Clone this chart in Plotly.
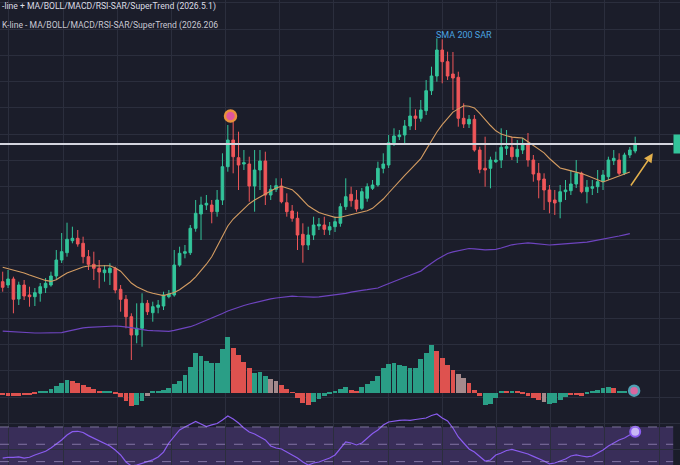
import plotly.graph_objects as go

# ---------------- data ----------------
open_ = [118.3,115,121,101,115,105,103.3,106.7,112.3,115,124,140,147.3,159.3,161.7,156.7,143.3,135.7,131.7,127.3,
         127.3,131.7,110.7,100.7,83.3,65,71.7,96.7,87.3,92.7,94,103.3,105,135,146.7,147.3,171.7,186,195,195,
         188.3,200,233.3,260,242.3,236,236,214,230,239,205,210.7,214,197.3,189,181.7,165.7,155,165,174,
         175,170,173.3,176.7,193.3,205.7,200,191.7,201.7,211.7,215,231.7,235,257.3,263.3,265,274,284,281.7,289.3,
         309.3,324,350,338.3,326,322.7,281.7,276,280.7,250,231.7,231.7,238.3,240,251.7,252.7,243.3,250,256,240,
         226.7,221,210,200,198.3,208.3,209.3,216,226.7,208.3,211.7,213.3,218.3,223.3,239.3,240,226.7,245,249]
high = [128.3,130,123.3,118.3,120,113.3,112,117,122,128.3,150,167,177.3,173.3,170,163.3,150,148.3,140,135,
        136.7,133.3,115,105,86.7,96.7,106.7,100,98.3,100,108.3,110,150,153.3,155,175,200,203.3,205,200,
        210,246.7,275,278.3,268.3,250,243.3,250,250,248.3,215,221.7,221.7,206.7,195,188.3,176.7,173.3,183.3,182,
        183.3,178,183.3,196.7,221.7,213.3,210,212,216.7,220,238.3,246.7,265,271.7,270,280,302.7,290.7,300,320,
        333.3,361.7,360.7,348.3,348,328.3,296.7,285,285,253.3,263.3,243.3,248.3,271.7,270,263.3,260,262,267,245,
        237,226.7,215,210,215,220,230,240,228.3,220,220,230,230,243.3,250,246.7,247.3,253,263.3]
low = [108.3,112,86.7,95,100,93.3,94,98.3,107,113.3,120,137,143.3,156.7,153.3,136.7,130,120,111.7,118.3,
       115,106.7,88.3,71.7,40,56.7,53.3,85,78.3,86.7,90,101.7,103.3,133.3,141.7,145,168.3,160,190,176.7,
       183.3,195,228.3,226.7,210,230,198.3,188.3,210,195,200,208,196.7,183.3,178.3,150,137.3,150,160,170,
       165,165,168,173.3,190,193.3,188.3,190,198.3,210,213.3,226.7,232,254,260,255,270,270,278.3,285,
       305,318.3,316.7,320,290,273.3,272,272,248.3,226.7,213.3,211.7,237,232,245,240,237,246,233.3,218.3,
       201.7,190,186.7,185,181.7,200,205,212,206.7,196.7,205,207,210,220,235,225,225,242,246.7]
close = [112.7,121,100.7,115,104,103.3,107.3,113.3,116.7,124,140,148.3,160.7,161.7,156,143.3,135.7,131.7,128,130,
         131.7,110,100.7,83.3,65,71.7,96.7,88.3,93.3,95,105,106,135,146.7,148.3,171.7,186.7,195,196.7,188.3,
         200,233.3,260,243.3,235,237.3,214,230,239,205,210.7,214.3,198.3,188.3,181.7,165,155,165,175,175.7,
         170.7,173.3,178.3,193.3,203.3,199.3,191,208.3,213.3,215,231.7,236,257.3,264,265,274,284,281.7,290,309.3,
         324,350,338.3,324,322,281.7,276,280.7,250,230.7,230,240,240,252.7,253.3,243.3,250.7,256,240,226,
         220,210,198.3,197,208.3,210,216,226.7,208.3,212.7,213.3,218.3,225,240,241.7,226.7,245,250,255.7]

ma20 = [132.7,131.3,130,128.6,127,125,123,121,119.6,118.6,120.3,123.7,127,129,131.2,133,134,134.3,134.3,134.3,
        134.3,132,128.8,123,117,113.3,110.7,108.2,106.8,105.5,104.4,106,107.5,110.3,114,118,123.2,129.4,135.8,143.2,
        153.5,163.7,174,181,186,191.2,196.3,200,203.2,206.2,209,212,213.7,212,210.3,205.5,199.7,194.2,190.7,187.5,
        185.7,184,182.6,182.8,184,185.5,186.8,188,189.3,191.7,196,201,207,213.2,219.2,224.7,230.1,235.4,241.3,250.4,
        259.4,268,275.4,281.6,287.9,291.1,294.2,293.8,292.1,286.7,280.4,274.5,269.2,265.9,264.3,262.9,262.4,262,258.3,254.5,
        250.8,247.2,241.5,236.4,232,230.6,229.3,228,226.4,224.4,222.4,220.1,218,220,222,223.7,225.8,227.9]

sma200 = [68.9,68.5,68.2,67.9,67.5,67.2,67,67,67,67,67,67.4,68.7,70.1,71.4,72.2,72.7,73.1,73.5,73.9,
          74.3,74,73.7,73.4,72.4,71.3,70.2,69.7,69.3,68.9,68.5,68.6,69.6,70.6,71.6,73.3,75.3,77.4,79.5,81.5,
          83.9,86.5,89,91,92.8,94.5,96,97.4,99.1,100.4,101.2,102,102.7,103.5,103.9,103.5,103.2,102.9,102.8,103.2,
          103.9,104.5,104.8,105.7,106.7,107.8,108.9,109.6,110.3,111.1,112,114.2,116.5,118.7,120.8,122.8,124.7,126.6,128.9,133,
          137.1,140.6,143.6,146.5,148.1,149.1,150.1,151.5,151.1,150.4,150.1,150.4,150.6,152,153.8,155.2,156,156.7,157.2,156.7,
          156,155.5,155,155.3,155.6,155.9,156.2,156.6,156.9,157.8,158.8,159.7,160.7,161.7,163,164,165.2,166.3]

macd_hist = [-0.2,-0.3,-0.3,-0.3,-0.2,-0.2,-0.1,0.1,0.2,0.4,0.7,1.0,1.25,1.2,1.0,0.8,0.6,0.4,0.2,0.15,
             0.1,-0.1,-0.4,-0.8,-1.3,-1.2,-0.8,-0.3,0.1,0.2,0.3,0.5,0.9,1.2,1.8,2.6,4.0,3.7,3.2,3.0,
             3.0,4.4,5.6,4.5,3.8,3.1,2.5,2.0,2.1,1.7,1.4,1.2,0.8,0.4,0.05,-0.5,-1.0,-1.2,-0.9,-0.6,
             -0.3,-0.1,0.1,0.4,0.6,0.3,0.2,0.6,0.9,1.2,1.7,2.5,2.9,3.0,2.8,2.7,2.5,2.5,3.4,4.0,
             4.8,4.2,3.5,2.8,2.3,1.9,1.5,1.0,0.3,-0.3,-1.2,-1.1,-0.5,0.1,0.2,0.1,0.2,-0.1,-0.3,-0.5,
             -0.7,-0.9,-1.1,-1.0,-0.7,-0.4,-0.2,-0.2,-0.3,-0.1,0.1,0.3,0.5,0.6,0.5,0.2,0.2]
macd_state = list("dddd" "ddd" "uuuuuu" "dddddd" "uu" "dddd" "uu" "g" "uuuuuuuuuuuuuuu" "dddd" "uuu" "gg" "dddddd"
                  "uuuuuuu" "dd" "uuuuuuuuuuuuuu" "dddd" "gg" "ddd" "uuuu" "d" "u" "ddddd" "g" "uuuu" "ddd" "uuuuu" "d" "u")

rsi = [34,35,35,35.5,34,35,37.7,40,42,45.7,50.3,55,60.7,64.5,65,63.6,60,57,53.8,50.3,
       48,43.4,37.7,29.6,25,26,27.9,30.2,32,35.4,41,51.5,59.6,66.5,70,73.4,76.3,73.4,70.5,72.3,
       74,78,82.6,79.2,74.6,68.8,64.2,61.9,58.4,55,48,45.7,44.6,41.1,37.7,34.2,29.6,26,28.4,29.6,
       31.9,34.2,37.7,45.7,52.7,51.5,49.2,51.5,57.3,62.5,66.5,72.3,75.7,76.9,77.5,78,77.5,78.6,79.2,80.3,
       83.2,85,80.3,76.9,68.8,58.4,51.5,44.6,41.1,35.4,30.7,31.9,37.7,40,42.8,44,42.3,40,38.8,36,
       33.6,30.7,27.3,28.4,30.7,33,36.5,37.7,36.5,35.4,36.5,40,43.4,48,51.5,55,57.3,60.7,64.5]
rsi_levels = [30, 50, 70]

resistance = 256.0
peak_idx, peak_price = 42.5, 284
label_idx, label_price = 86, 365
arrow_from = (117, 213)
arrow_to = (121.3, 246.7)

title_1 = "-line + MA/BOLL/MACD/RSI-SAR/SuperTrend (2026.5.1)"
title_2 = "K-line - MA/BOLL/MACD/RSI-SAR/SuperTrend (2026.206"

# ---------------- style ----------------
BG = "#1b1d2a"
GRID = "#2b2e3d"
UP = "#33c49a"
DN = "#ef5659"
state_colors = {"u": "#2a9e86", "d": "#de524f", "g": "#a58a8c"}

n = len(open_)
idx = list(range(n))

fig = go.Figure()

fig.add_trace(go.Scatter(x=list(range(len(sma200))), y=sma200, mode="lines",
                         line=dict(color="#6e44bf", width=1.2), hoverinfo="skip"))

fig.add_trace(go.Candlestick(
    x=idx, open=open_, high=high, low=low, close=close,
    increasing=dict(line=dict(color=UP, width=1), fillcolor=UP),
    decreasing=dict(line=dict(color=DN, width=1), fillcolor=DN),
    whiskerwidth=0))

fig.add_trace(go.Scatter(x=list(range(len(ma20))), y=ma20, mode="lines",
                         line=dict(color="#d49c62", width=1.1), hoverinfo="skip"))

fig.add_trace(go.Scatter(x=[peak_idx], y=[peak_price], mode="markers",
                         marker=dict(size=11, color="#e0569c", line=dict(color="#e8913c", width=2.5))))

colors = [state_colors[s] for s in macd_state[:len(macd_hist)]]
colors += [state_colors["u"]] * (len(macd_hist) - len(colors))
fig.add_trace(go.Bar(x=list(range(len(macd_hist))), y=macd_hist, marker=dict(color=colors, line=dict(width=0)),
                     width=0.9, yaxis="y2"))
fig.add_trace(go.Scatter(x=[len(macd_hist) + 0.8], y=[macd_hist[-1]], mode="markers", yaxis="y2",
                         marker=dict(size=10, color="#d7679f", line=dict(color="#4f9fb3", width=2.5))))

fig.add_trace(go.Scatter(x=list(range(len(rsi))), y=rsi, mode="lines", yaxis="y3",
                         line=dict(color="#8a5cef", width=1.2), hoverinfo="skip"))
fig.add_trace(go.Scatter(x=[len(rsi) - 1], y=[rsi[-1]], mode="markers", yaxis="y3",
                         marker=dict(size=10, color="#c9b8f5", line=dict(color="#8a5cef", width=2))))

shapes = [
    dict(type="rect", xref="paper", x0=0, x1=0.99, yref="y3", y0=0, y1=rsi_levels[-1],
         fillcolor="rgba(120,85,190,0.32)", line=dict(width=0), layer="below"),
    dict(type="line", xref="paper", x0=0, x1=0.99, yref="y", y0=resistance, y1=resistance,
         line=dict(color="#d4d5de", width=2)),
]
for lv in rsi_levels:
    shapes.append(dict(type="line", xref="paper", x0=0, x1=0.99, yref="y3", y0=lv, y1=lv,
                       line=dict(color="rgba(190,175,225,0.55)", width=1, dash="dash")))

annotations = [
    dict(text=title_1, xref="paper", yref="paper", x=0, y=0.985, xanchor="left", yanchor="middle",
         showarrow=False, font=dict(family="Roboto, Noto Sans", size=8.6, color="#dcdce4")),
    dict(text=title_2, xref="paper", yref="paper", x=0, y=0.946, xanchor="left", yanchor="middle",
         showarrow=False, font=dict(family="Roboto, Noto Sans", size=8.6, color="#c8c8d2")),
    dict(text="SMA 200 SAR", x=label_idx, y=label_price, xref="x", yref="y", showarrow=False,
         font=dict(family="Roboto, Noto Sans", size=9, color="#4aa3e0")),
    # right-edge price tag (cut by the frame edge, as in the reference)
    dict(text=" ", x=125, y=resistance, xref="x", yref="y", xanchor="left", showarrow=False,
         bgcolor=UP, width=14, height=18, borderpad=0),
    dict(x=arrow_to[0], y=arrow_to[1], ax=arrow_from[0], ay=arrow_from[1], xref="x", yref="y",
         axref="x", ayref="y", showarrow=True, arrowhead=2, arrowsize=1.2, arrowwidth=1.5,
         arrowcolor="#e3b04c", text=""),
]

fig.update_layout(
    width=680, height=465, margin=dict(l=0, r=0, t=0, b=0),
    paper_bgcolor=BG, plot_bgcolor=BG, showlegend=False, bargap=0,
    shapes=shapes, annotations=annotations,
    xaxis=dict(range=[-0.504, 126.36], showgrid=True, gridcolor=GRID, gridwidth=1,
               tick0=11.25, dtick=10.11, showticklabels=False, zeroline=False,
               rangeslider=dict(visible=False), ticks=""),
    yaxis=dict(range=[-65, 400], domain=[0, 1], showgrid=True, gridcolor=GRID, gridwidth=1,
               tick0=371, dtick=26.3, showticklabels=False, zeroline=False, ticks=""),
    yaxis2=dict(range=[-7.23, 39.27], overlaying="y", visible=False),
    yaxis3=dict(range=[26.1, 562.5], overlaying="y", visible=False),
)

fig.write_html("out.html", config={"displayModeBar": False},
               post_script="document.body.style.margin='0';document.body.style.overflow='hidden';"
                           "document.body.style.background='" + BG + "';")
